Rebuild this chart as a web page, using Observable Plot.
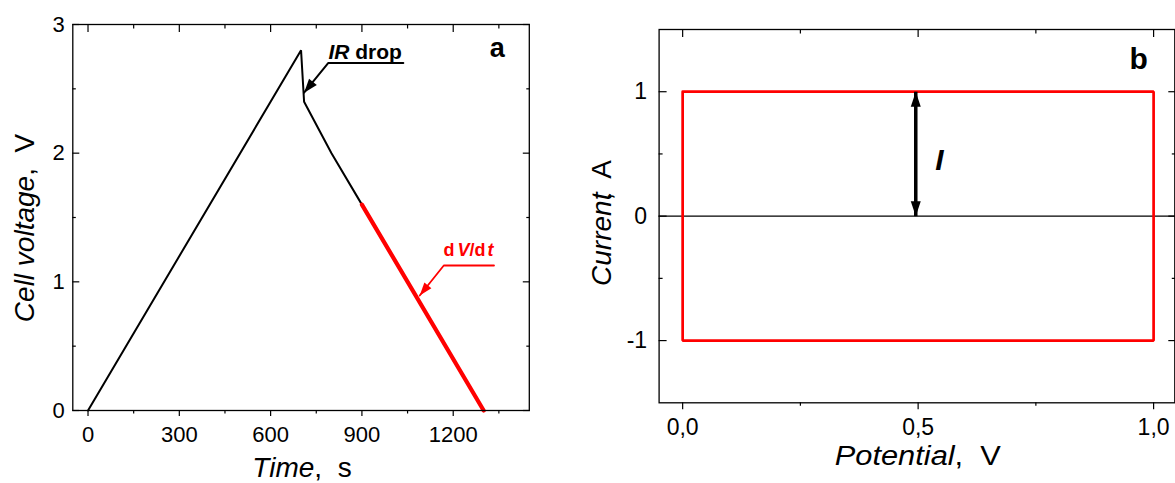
<!DOCTYPE html>
<html><head><meta charset="utf-8">
<script src="https://cdn.jsdelivr.net/npm/d3@7"></script>
<script src="https://cdn.jsdelivr.net/npm/@observablehq/plot@0.6"></script>
<style>
html,body{margin:0;padding:0;background:#fff;}
#chart{position:relative;width:1175px;height:483px;overflow:hidden;}
#chart > svg{position:absolute;top:0;}
text{white-space:pre;}
</style></head><body><div id="chart"></div>
<script>
// ---- data: galvanostatic charge/discharge (panel a)
const chargeTime = [0, 700, 710, 800, 900];
const chargeVolt = [0, 2.8, 2.4, 2.0, 1.6];
const slopeTime = [900, 1300];
const slopeVolt = [1.6, 0];
// ---- data: ideal cyclic voltammogram (panel b)
const cvPotential = [0, 1, 1, 0, 0];
const cvCurrent = [1, 1, -1, -1, 1];
// ---- ticks
const timeTicks = [0, 300, 600, 900, 1200];
const timeMinorTicks = [150, 450, 750, 1050, 1350];
const voltTicks = [0, 1, 2, 3];
const voltMinorTicks = [0.5, 1.5, 2.5];
const potentialTicks = [0, 0.5, 1];
const potentialTickLabels = ["0,0", "0,5", "1,0"];
const potentialMinorTicks = [0.25, 0.75];
const currentTicks = [-1, 0, 1];
const currentTickLabels = ["-1", "0", "1"];
const currentMinorTicks = [-0.5, 0.5];
// ---- annotations
const irArrowTime = [710, 789, 1036];
const irArrowVolt = [2.47, 2.70, 2.70];
const dvArrowTime = [1090, 1169, 1334];
const dvArrowVolt = [0.894, 1.127, 1.127];
const currentArrowPotential = [0.495];
const currentArrowFrom = [0];
const currentArrowTo = [1];
const annotationTexts = ["IR drop", "dV/dt", "a", "I", "b"];
const annotationX = [790, 1168, 1345, 0.545, 0.968];
const annotationY = [2.783, 1.247, 2.818, 0.446, 1.263];

const FONT = '"Liberation Sans", Arial, Helvetica, sans-serif';

function filledHead(len, wid) {
  return (color, context) => {
    const doc = (context && context.document) || document;
    const ns = "http://www.w3.org/2000/svg";
    const m = doc.createElementNS(ns, "marker");
    m.setAttribute("viewBox", `${-len} ${-wid / 2} ${len} ${wid}`);
    m.setAttribute("markerWidth", len);
    m.setAttribute("markerHeight", wid);
    m.setAttribute("markerUnits", "userSpaceOnUse");
    m.setAttribute("refX", 0);
    m.setAttribute("refY", 0);
    m.setAttribute("orient", "auto-start-reverse");
    m.setAttribute("overflow", "visible");
    const p = doc.createElementNS(ns, "path");
    p.setAttribute("d", `M${-len},${-wid / 2}L0,0L${-len},${wid / 2}Z`);
    p.setAttribute("fill", color);
    p.setAttribute("stroke", "none");
    m.appendChild(p);
    return m;
  };
}

function idx(a) { return d3.range(a.length); }

function tickOnly(axis, ticks, anchor, size) {
  return axis(ticks, {anchor, tickSize: size, strokeWidth: 1.2, fill: "none", label: null});
}

function richify(svg, match, parts) {
  svg.querySelectorAll("text").forEach((t) => {
    if (t.textContent === match) {
      while (t.firstChild) t.removeChild(t.firstChild);
      for (const p of parts) {
        const s = document.createElementNS("http://www.w3.org/2000/svg", "tspan");
        s.textContent = p.text;
        if (p.italic) s.setAttribute("font-style", "italic");
        if (p.dx) s.setAttribute("dx", p.dx);
        t.appendChild(s);
      }
    }
  });
}

function addTitle(svg, {x, y, rotate = 0, sx = 1, size, parts}) {
  const t = d3.select(svg).append("text")
    .attr("transform", `translate(${x},${y}) rotate(${rotate}) scale(${sx},1)`)
    .attr("text-anchor", "middle")
    .attr("font-size", size)
    .attr("font-family", FONT)
    .attr("fill", "black")
    .attr("xml:space", "preserve");
  for (const p of parts) {
    const s = t.append("tspan").text(p.text);
    if (p.italic) s.attr("font-style", "italic");
    if (p.dx) s.attr("dx", p.dx);
  }
}

function build(useCustom) {
  const headIR = useCustom ? filledHead(14, 10) : "arrow";
  const headDV = useCustom ? filledHead(13, 9) : "arrow";
  const headI = useCustom ? filledHead(15, 10) : "arrow";

  const plotA = Plot.plot({
    width: 560, height: 483,
    marginLeft: 72.3, marginRight: 31.2, marginTop: 24, marginBottom: 73,
    style: {fontFamily: FONT, fontSize: "22px", color: "black", background: "white", overflow: "visible"},
    x: {domain: [-50, 1450]},
    y: {domain: [0, 3]},
    marks: [
      Plot.line(idx(chargeTime), {x: chargeTime, y: chargeVolt, stroke: "black", strokeWidth: 2, strokeLinejoin: "miter"}),
      Plot.line(idx(slopeTime), {x: slopeTime, y: slopeVolt, stroke: "#ff0000", strokeWidth: 4.2}),
      Plot.line(idx(irArrowTime), {x: irArrowTime, y: irArrowVolt, stroke: "black", strokeWidth: 2, markerStart: headIR}),
      Plot.line(idx(dvArrowTime), {x: dvArrowTime, y: dvArrowVolt, stroke: "#ff0000", strokeWidth: 1.8, markerStart: headDV}),
      Plot.text([0], {x: [annotationX[0]], y: [annotationY[0]], text: [annotationTexts[0]], textAnchor: "start", fontSize: 21, fontWeight: "bold", fill: "black"}),
      Plot.text([0], {x: [annotationX[1]], y: [annotationY[1]], text: [annotationTexts[1]], textAnchor: "start", fontSize: 18, fontWeight: "bold", fill: "#ff0000"}),
      Plot.text([0], {x: [annotationX[2]], y: [annotationY[2]], text: [annotationTexts[2]], textAnchor: "middle", fontSize: 27, fontWeight: "bold", fill: "black"}),
      Plot.frame({stroke: "black", strokeWidth: 1.3}),
      tickOnly(Plot.axisX, timeTicks, "bottom", 6),
      tickOnly(Plot.axisX, timeMinorTicks, "bottom", 3.5),
      tickOnly(Plot.axisX, timeTicks, "top", -7),
      tickOnly(Plot.axisX, timeMinorTicks, "top", -3.5),
      Plot.axisX(timeTicks, {anchor: "bottom", tickSize: 0, tickPadding: 16, fontSize: 22, tickFormat: (d) => String(d), label: null}),
      tickOnly(Plot.axisY, voltTicks, "left", -7),
      tickOnly(Plot.axisY, voltMinorTicks, "left", -3.5),
      tickOnly(Plot.axisY, voltTicks, "right", -7),
      tickOnly(Plot.axisY, voltMinorTicks, "right", -3.5),
      Plot.axisY(voltTicks, {anchor: "left", tickSize: 0, tickPadding: 8, fontSize: 22, tickFormat: (d) => String(d), label: null})
    ]
  });

  const plotB = Plot.plot({
    width: 595, height: 483,
    marginLeft: 78.6, marginRight: 0.7, marginTop: 29, marginBottom: 80.7,
    style: {fontFamily: FONT, fontSize: "23px", color: "black", background: "white", overflow: "visible"},
    x: {domain: [-0.05, 1.045]},
    y: {domain: [-1.5, 1.5]},
    marks: [
      Plot.ruleY([0], {stroke: "black", strokeWidth: 1.2}),
      Plot.line(idx(cvPotential), {x: cvPotential, y: cvCurrent, stroke: "#ff0000", strokeWidth: 2.7, strokeLinejoin: "miter"}),
      Plot.link([0], {x1: currentArrowPotential, x2: currentArrowPotential, y1: currentArrowFrom, y2: currentArrowTo, stroke: "black", strokeWidth: 3.5, markerStart: headI, markerEnd: headI}),
      Plot.text([0], {x: [annotationX[3]], y: [annotationY[3]], text: [annotationTexts[3]], textAnchor: "middle", fontSize: 30, fontWeight: "bold", fontStyle: "italic", fill: "black"}),
      Plot.text([0], {x: [annotationX[4]], y: [annotationY[4]], text: [annotationTexts[4]], textAnchor: "middle", fontSize: 30, fontWeight: "bold", fill: "black"}),
      Plot.frame({stroke: "black", strokeWidth: 1.3}),
      tickOnly(Plot.axisX, potentialTicks, "bottom", 7),
      tickOnly(Plot.axisX, potentialMinorTicks, "bottom", 3.5),
      tickOnly(Plot.axisX, potentialTicks, "top", -7),
      tickOnly(Plot.axisX, potentialMinorTicks, "top", -3.5),
      Plot.axisX(potentialTicks, {anchor: "bottom", tickSize: 0, tickPadding: 16, fontSize: 23, tickFormat: (d) => potentialTickLabels[potentialTicks.indexOf(d)], label: null}),
      tickOnly(Plot.axisY, currentTicks, "left", -8),
      tickOnly(Plot.axisY, currentMinorTicks, "left", -4),
      tickOnly(Plot.axisY, currentTicks, "right", -7),
      tickOnly(Plot.axisY, currentMinorTicks, "right", -3.5),
      Plot.axisY(currentTicks, {anchor: "left", tickSize: 0, tickPadding: 12, fontSize: 23, tickFormat: (d) => currentTickLabels[currentTicks.indexOf(d)], label: null})
    ]
  });
  return [plotA, plotB];
}

let plots;
try { plots = build(true); } catch (e) { console.error(e); plots = build(false); }
const [svgA, svgB] = plots;
const chart = document.getElementById("chart");
svgA.style.left = "0px";
svgB.style.left = "580px";
chart.appendChild(svgA);
chart.appendChild(svgB);

richify(svgA, "IR drop", [{text: "IR", italic: true}, {text: " drop"}]);
richify(svgA, "dV/dt", [{text: "d"}, {text: "V", italic: true, dx: 3}, {text: "/d"}, {text: "t", italic: true, dx: 2}]);

addTitle(svgA, {x: 302, y: 477, size: 28, parts: [{text: "Time", italic: true}, {text: ",  s"}]});
addTitle(svgA, {x: 34, y: 228, rotate: -90, size: 28, parts: [{text: "Cell voltage", italic: true}, {text: ",  V"}]});
addTitle(svgB, {x: 337.8, y: 465, sx: 1.1, size: 28, parts: [{text: "Potential", italic: true}, {text: ",  V"}]});
addTitle(svgB, {x: 30.5, y: 223, rotate: -90, size: 28, parts: [{text: "Current", italic: true}, {text: ",", dx: -8}, {text: "  A"}]});
</script></body></html>
